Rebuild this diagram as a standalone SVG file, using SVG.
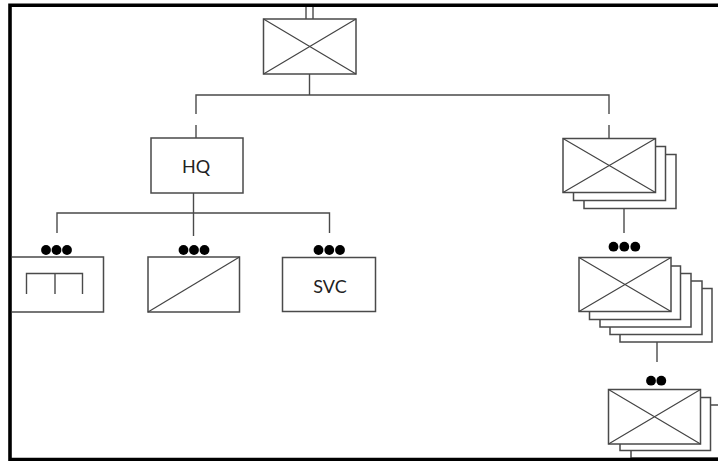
<svg xmlns="http://www.w3.org/2000/svg" width="718" height="461" viewBox="0 0 718 461">
<style>
.box{fill:#fff;stroke:#4a4a4a;stroke-width:1.5}
.ln{fill:none;stroke:#4a4a4a;stroke-width:1.4}
.x{fill:none;stroke:#444;stroke-width:1.2}
.dot{fill:#000}
.t{font-family:Lato,"Open Sans",sans-serif;font-size:18px;fill:#222;text-anchor:middle}
</style>
<rect width="718" height="461" fill="#fff"/>
<g id="connectors">
<line class="ln" x1="306" y1="5" x2="306" y2="19"/>
<line class="ln" x1="313" y1="5" x2="313" y2="19"/>
<line class="ln" x1="309.5" y1="74" x2="309.5" y2="95"/>
<polyline class="ln" points="196,114 196,95 609,95 609,114"/>
<line class="ln" x1="196" y1="125" x2="196" y2="138"/>
<line class="ln" x1="609" y1="125" x2="609" y2="138"/>
<line class="ln" x1="193.5" y1="193" x2="193.5" y2="236"/>
<polyline class="ln" points="57,233 57,213 329.5,213 329.5,233"/>
<line class="ln" x1="624" y1="208" x2="624" y2="233"/>
<line class="ln" x1="657" y1="342" x2="657" y2="362"/>
</g>
<g id="top">
<rect class="box" x="263.5" y="19" width="92.5" height="55"/>
<path class="x" d="M263.5,19L356,74M356,19L263.5,74"/>
</g>
<g id="hq">
<rect class="box" x="151" y="138" width="92" height="55"/>
<text class="t" x="196" y="173">HQ</text>
</g>
<g id="left">
<circle class="dot" cx="46" cy="250" r="4.9"/><circle class="dot" cx="56.5" cy="250" r="4.9"/><circle class="dot" cx="67" cy="250" r="4.9"/>
<polyline class="box" points="12,257 103.5,257 103.5,312 12,312"/>
<path class="ln" d="M26.5,294V273.5H82.5V294M55,273.5V294"/>
</g>
<g id="middle">
<circle class="dot" cx="183.5" cy="250" r="4.9"/><circle class="dot" cx="194" cy="250" r="4.9"/><circle class="dot" cx="204.5" cy="250" r="4.9"/>
<rect class="box" x="148" y="257" width="91.5" height="55"/>
<path class="x" d="M148,312L239.5,257"/>
</g>
<g id="svc">
<circle class="dot" cx="318.5" cy="250" r="4.9"/><circle class="dot" cx="329.3" cy="250" r="4.9"/><circle class="dot" cx="340" cy="250" r="4.9"/>
<rect class="box" x="282.5" y="257.5" width="93" height="54"/>
<text class="t" x="330" y="293">SVC</text>
</g>
<g id="right1">
<rect class="box" x="584" y="154.5" width="92" height="54"/>
<rect class="box" x="573.5" y="146.5" width="92" height="54"/>
<rect class="box" x="563" y="138.5" width="92.5" height="54"/>
<path class="x" d="M563,138.5L655.5,192.5M655.5,138.5L563,192.5"/>
</g>
<g id="right2">
<circle class="dot" cx="613.5" cy="246.7" r="4.9"/><circle class="dot" cx="624.3" cy="246.7" r="4.9"/><circle class="dot" cx="635.3" cy="246.7" r="4.9"/>
<rect class="box" x="620" y="288.5" width="92" height="53.5"/>
<rect class="box" x="610" y="281" width="92" height="53.5"/>
<rect class="box" x="600" y="273.5" width="91" height="53.5"/>
<rect class="box" x="589.5" y="266" width="91" height="53.5"/>
<rect class="box" x="579" y="257.5" width="92" height="54"/>
<path class="x" d="M579,257.5L671,311.5M671,257.5L579,311.5"/>
</g>
<g id="right3">
<circle class="dot" cx="651" cy="380.7" r="4.9"/><circle class="dot" cx="661.3" cy="380.7" r="4.9"/>
<rect class="box" x="631" y="405" width="100" height="53"/>
<rect class="box" x="620" y="397.5" width="90.5" height="53"/>
<rect class="box" x="608.5" y="389.5" width="92" height="54.5"/>
<path class="x" d="M608.5,389.5L700.5,444M700.5,389.5L608.5,444"/>
</g>
<g id="frame">
<path d="M730,5.3H10V459.5H730" fill="none" stroke="#000" stroke-width="3.6"/>
</g>
</svg>
